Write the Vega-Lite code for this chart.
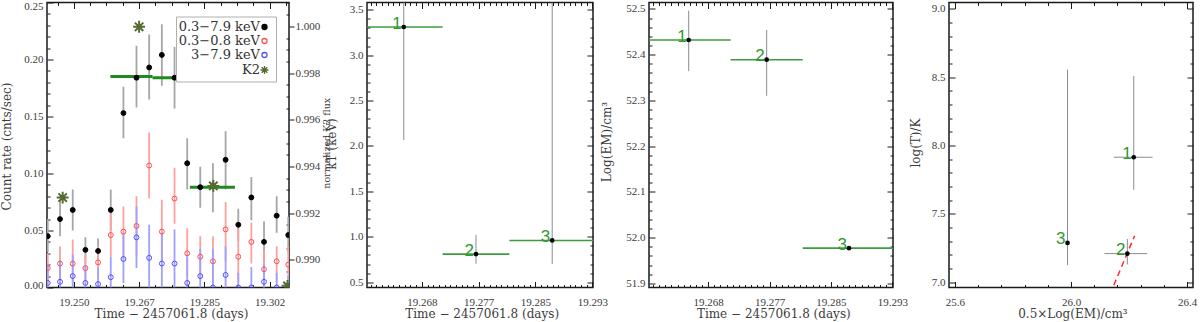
{
"$schema": "https://vega.github.io/schema/vega-lite/v6.json",
"background": "white",
"padding": {"left": -1, "top": -4.5, "right": 0, "bottom": 0},
"config": {
  "view": {"stroke": "#1a1a1a", "strokeWidth": 1.5},
  "axis": {"grid": false, "domain": false, "labelFont": "Liberation Serif", "labelFontSize": 11, "labelColor": "#3c3c3c", "titleFont": "DejaVu Serif", "titleFontSize": 12, "titleFontWeight": "normal", "titleColor": "#3c3c3c", "tickColor": "#1a1a1a", "tickWidth": 1, "labelOverlap": false, "labelFlush": false, "titleBaseline": "middle", "titleAlign": "center"}
},
"datasets": {
  "lc": [
    {"t":19.2430,"band":"0.3−7.9 keV","rate":0.045,"lo":0.031,"hi":0.060},
    {"t":19.2463,"band":"0.3−7.9 keV","rate":0.060,"lo":0.045,"hi":0.076},
    {"t":19.2497,"band":"0.3−7.9 keV","rate":0.068,"lo":0.050,"hi":0.086},
    {"t":19.2531,"band":"0.3−7.9 keV","rate":0.033,"lo":0.021,"hi":0.044},
    {"t":19.2565,"band":"0.3−7.9 keV","rate":0.032,"lo":0.023,"hi":0.043},
    {"t":19.2599,"band":"0.3−7.9 keV","rate":0.068,"lo":0.050,"hi":0.086},
    {"t":19.2633,"band":"0.3−7.9 keV","rate":0.153,"lo":0.131,"hi":0.176},
    {"t":19.2668,"band":"0.3−7.9 keV","rate":0.184,"lo":0.158,"hi":0.212},
    {"t":19.2702,"band":"0.3−7.9 keV","rate":0.193,"lo":0.165,"hi":0.222},
    {"t":19.2736,"band":"0.3−7.9 keV","rate":0.204,"lo":0.177,"hi":0.231},
    {"t":19.2770,"band":"0.3−7.9 keV","rate":0.184,"lo":0.157,"hi":0.211},
    {"t":19.2804,"band":"0.3−7.9 keV","rate":0.109,"lo":0.086,"hi":0.131},
    {"t":19.2839,"band":"0.3−7.9 keV","rate":0.088,"lo":0.070,"hi":0.106},
    {"t":19.2873,"band":"0.3−7.9 keV","rate":0.089,"lo":0.066,"hi":0.109},
    {"t":19.2907,"band":"0.3−7.9 keV","rate":0.112,"lo":0.086,"hi":0.137},
    {"t":19.2941,"band":"0.3−7.9 keV","rate":0.055,"lo":0.041,"hi":0.069},
    {"t":19.2976,"band":"0.3−7.9 keV","rate":0.079,"lo":0.059,"hi":0.097},
    {"t":19.3010,"band":"0.3−7.9 keV","rate":0.040,"lo":0.021,"hi":0.058},
    {"t":19.3044,"band":"0.3−7.9 keV","rate":0.063,"lo":0.048,"hi":0.080},
    {"t":19.3075,"band":"0.3−7.9 keV","rate":0.046,"lo":0.031,"hi":0.062},
    {"t":19.2430,"band":"0.3−0.8 keV","rate":0.017,"lo":0.004,"hi":0.030},
    {"t":19.2463,"band":"0.3−0.8 keV","rate":0.021,"lo":0.006,"hi":0.036},
    {"t":19.2497,"band":"0.3−0.8 keV","rate":0.021,"lo":0.004,"hi":0.042},
    {"t":19.2531,"band":"0.3−0.8 keV","rate":0.017,"lo":0.005,"hi":0.029},
    {"t":19.2565,"band":"0.3−0.8 keV","rate":0.022,"lo":0.008,"hi":0.036},
    {"t":19.2599,"band":"0.3−0.8 keV","rate":0.046,"lo":0.027,"hi":0.064},
    {"t":19.2633,"band":"0.3−0.8 keV","rate":0.049,"lo":0.027,"hi":0.071},
    {"t":19.2668,"band":"0.3−0.8 keV","rate":0.054,"lo":0.027,"hi":0.080},
    {"t":19.2702,"band":"0.3−0.8 keV","rate":0.107,"lo":0.078,"hi":0.136},
    {"t":19.2736,"band":"0.3−0.8 keV","rate":0.049,"lo":0.023,"hi":0.077},
    {"t":19.2770,"band":"0.3−0.8 keV","rate":0.078,"lo":0.056,"hi":0.105},
    {"t":19.2804,"band":"0.3−0.8 keV","rate":0.030,"lo":0.010,"hi":0.052},
    {"t":19.2839,"band":"0.3−0.8 keV","rate":0.027,"lo":0.007,"hi":0.045},
    {"t":19.2873,"band":"0.3−0.8 keV","rate":0.023,"lo":0.004,"hi":0.045},
    {"t":19.2907,"band":"0.3−0.8 keV","rate":0.051,"lo":0.023,"hi":0.075},
    {"t":19.2941,"band":"0.3−0.8 keV","rate":0.027,"lo":0.005,"hi":0.051},
    {"t":19.2976,"band":"0.3−0.8 keV","rate":0.040,"lo":0.021,"hi":0.057},
    {"t":19.3010,"band":"0.3−0.8 keV","rate":0.016,"lo":0.000,"hi":0.033},
    {"t":19.3044,"band":"0.3−0.8 keV","rate":0.023,"lo":0.005,"hi":0.036},
    {"t":19.3075,"band":"0.3−0.8 keV","rate":0.020,"lo":0.004,"hi":0.036},
    {"t":19.2430,"band":"3−7.9 keV","rate":0.004,"lo":0.000,"hi":0.021},
    {"t":19.2463,"band":"3−7.9 keV","rate":0.005,"lo":0.000,"hi":0.024},
    {"t":19.2497,"band":"3−7.9 keV","rate":0.010,"lo":0.000,"hi":0.029},
    {"t":19.2531,"band":"3−7.9 keV","rate":0.004,"lo":0.000,"hi":0.020},
    {"t":19.2565,"band":"3−7.9 keV","rate":0.003,"lo":0.000,"hi":0.017},
    {"t":19.2599,"band":"3−7.9 keV","rate":0.009,"lo":0.000,"hi":0.027},
    {"t":19.2633,"band":"3−7.9 keV","rate":0.025,"lo":0.004,"hi":0.048},
    {"t":19.2668,"band":"3−7.9 keV","rate":0.044,"lo":0.017,"hi":0.071},
    {"t":19.2702,"band":"3−7.9 keV","rate":0.026,"lo":0.000,"hi":0.055},
    {"t":19.2736,"band":"3−7.9 keV","rate":0.021,"lo":0.000,"hi":0.048},
    {"t":19.2770,"band":"3−7.9 keV","rate":0.021,"lo":0.000,"hi":0.051},
    {"t":19.2804,"band":"3−7.9 keV","rate":0.004,"lo":0.000,"hi":0.027},
    {"t":19.2839,"band":"3−7.9 keV","rate":0.010,"lo":0.000,"hi":0.034},
    {"t":19.2873,"band":"3−7.9 keV","rate":0.000,"lo":0.000,"hi":0.034},
    {"t":19.2907,"band":"3−7.9 keV","rate":0.011,"lo":0.000,"hi":0.036},
    {"t":19.2941,"band":"3−7.9 keV","rate":0.000,"lo":0.000,"hi":0.013},
    {"t":19.2976,"band":"3−7.9 keV","rate":0.000,"lo":0.000,"hi":0.018},
    {"t":19.3010,"band":"3−7.9 keV","rate":0.005,"lo":0.000,"hi":0.021},
    {"t":19.3044,"band":"3−7.9 keV","rate":0.000,"lo":0.000,"hi":0.013},
    {"t":19.3075,"band":"3−7.9 keV","rate":0.000,"lo":0.000,"hi":0.010}
  ],
  "bins": [
    {"t0":19.2598,"t1":19.2711,"rate":0.185},
    {"t0":19.2711,"t1":19.2811,"rate":0.184},
    {"t0":19.2811,"t1":19.2932,"rate":0.088}
  ],
  "k2": [
    {"t":19.2470,"band":"K2","flux":0.99267},
    {"t":19.2675,"band":"K2","flux":0.99998},
    {"t":19.2874,"band":"K2","flux":0.99317},
    {"t":19.3073,"band":"K2","flux":0.98889}
  ],
  "spec": [
    {"id":"1","t":19.2653,"t0":19.2598,"t1":19.2711,"kT":3.31,"kT_lo":2.065,"kT_hi":3.7,"em":52.432,"em_lo":52.364,"em_hi":52.496,"hem":26.216,"hem_lo":26.147,"hem_hi":26.281,"logT":7.914,"logT_lo":7.676,"logT_hi":8.509},
    {"id":"2","t":19.2761,"t0":19.2711,"t1":19.2811,"kT":0.81,"kT_lo":0.704,"kT_hi":1.022,"em":52.389,"em_lo":52.31,"em_hi":52.454,"hem":26.194,"hem_lo":26.115,"hem_hi":26.262,"logT":7.209,"logT_lo":7.13,"logT_hi":7.316},
    {"id":"3","t":19.2875,"t0":19.2811,"t1":19.2945,"kT":0.96,"kT_lo":0.70,"kT_hi":3.7,"em":51.977,"em_lo":51.974,"em_hi":51.98,"hem":25.988,"hem_lo":25.988,"hem_hi":25.988,"logT":7.287,"logT_lo":7.124,"logT_hi":8.555}
  ],
  "slope": [
    {"hem":26.134,"logT":6.91},
    {"hem":26.219,"logT":7.34}
  ]
},
"spacing": 78,
"bounds": "flush",
"hconcat": [
  {
    "width": 242, "height": 285,
    "layer": [
      {
        "data": {"name": "lc"},
        "mark": {"type": "rule", "clip": true, "strokeWidth": 1.8},
        "encoding": {
          "x": {"field": "t", "type": "quantitative", "scale": {"domain": [19.2428, 19.3077], "nice": false, "zero": false},
            "axis": {"title": "Time − 2457061.8 (days)",
              "values": [19.245625, 19.25, 19.254375, 19.25875, 19.263125, 19.2675, 19.271875, 19.27625, 19.280625, 19.285, 19.289375, 19.29375, 19.298125, 19.3025, 19.306875],
              "labelExpr": "indexof([19.25,19.2675,19.285,19.3025], datum.value) >= 0 ? format(floor(datum.value*1000+0.001)/1000, '.3f') : ''",
              "tickSize": {"condition": {"test": "indexof([19.25,19.2675,19.285,19.3025], datum.value) >= 0", "value": -6}, "value": -3},
              "labelPadding": 14.6, "titleX": 124, "titleY": 26}},
          "y": {"field": "lo", "type": "quantitative", "scale": {"domain": [0, 0.25], "nice": false},
            "axis": {"orient": "left", "title": "Count rate (cnts/sec)",
              "values": [0,0.01,0.02,0.03,0.04,0.05,0.06,0.07,0.08,0.09,0.1,0.11,0.12,0.13,0.14,0.15,0.16,0.17,0.18,0.19,0.2,0.21,0.22,0.23,0.24,0.25],
              "labelExpr": "abs(datum.value*20 - round(datum.value*20)) < 1e-6 ? format(datum.value, '.2f') : ''",
              "tickSize": {"condition": {"test": "abs(datum.value*20 - round(datum.value*20)) < 1e-6", "value": -6}, "value": -3},
              "labelOffset": {"condition": [{"test": "datum.value == 0.25", "value": 3.5}, {"test": "datum.value == 0", "value": -2}], "value": 0},
              "labelPadding": 10, "titleX": -41, "titleY": 143.5, "titleAngle": 270}},
          "y2": {"field": "hi"},
          "color": {"field": "band", "type": "nominal", "scale": {"domain": ["0.3−7.9 keV", "0.3−0.8 keV", "3−7.9 keV"], "range": ["#a6a6a6", "#ffa0a0", "#a0a0ff"]}, "legend": null}
        }
      },
      {
        "data": {"name": "bins"},
        "mark": {"type": "rule", "clip": true, "strokeWidth": 3, "color": "#1f8a1f"},
        "encoding": {
          "x": {"field": "t0", "type": "quantitative", "scale": {"domain": [19.2428, 19.3077], "nice": false, "zero": false}, "axis": null},
          "x2": {"field": "t1"},
          "y": {"field": "rate", "type": "quantitative", "scale": {"domain": [0, 0.25], "nice": false}, "axis": null}
        }
      },
      {
        "data": {"name": "lc"},
        "mark": {"type": "point", "clip": true, "size": 24, "strokeWidth": 1, "opacity": 1},
        "encoding": {
          "x": {"field": "t", "type": "quantitative", "scale": {"domain": [19.2428, 19.3077], "nice": false, "zero": false}, "axis": null},
          "y": {"field": "rate", "type": "quantitative", "scale": {"domain": [0, 0.25], "nice": false}, "axis": null},
          "shape": {"field": "band", "type": "nominal",
            "scale": {"domain": ["0.3−7.9 keV", "0.3−0.8 keV", "3−7.9 keV", "K2"], "range": ["circle", "circle", "circle", "M0,-1.6L0,1.6M-1.6,0L1.6,0M-1.13,-1.13L1.13,1.13M-1.13,1.13L1.13,-1.13"]},
            "legend": {"orient": "none", "legendX": 129, "legendY": 14, "title": null, "labelAlign": "right", "labelOffset": -11, "symbolOffset": 78, "labelFont": "DejaVu Serif", "labelFontSize": 13, "labelColor": "#333333", "strokeColor": "#b0b0b0", "fillColor": "white", "padding": 4, "rowPadding": 0, "symbolSize": 25, "symbolStrokeWidth": 1.3, "labelLimit": 200}},
          "fill": {"field": "band", "type": "nominal",
            "scale": {"domain": ["0.3−7.9 keV", "0.3−0.8 keV", "3−7.9 keV", "K2"], "range": ["black", "transparent", "transparent", "transparent"]},
            "legend": {"orient": "none", "legendX": 129, "legendY": 14, "title": null, "labelAlign": "right", "labelOffset": -11, "symbolOffset": 78, "labelFont": "DejaVu Serif", "labelFontSize": 13, "labelColor": "#333333", "strokeColor": "#b0b0b0", "fillColor": "white", "padding": 4, "rowPadding": 0, "symbolSize": 25, "symbolStrokeWidth": 1.3, "labelLimit": 200}},
          "stroke": {"field": "band", "type": "nominal",
            "scale": {"domain": ["0.3−7.9 keV", "0.3−0.8 keV", "3−7.9 keV", "K2"], "range": ["black", "#ff5050", "#5050ff", "#556b2f"]},
            "legend": {"orient": "none", "legendX": 129, "legendY": 14, "title": null, "labelAlign": "right", "labelOffset": -11, "symbolOffset": 78, "labelFont": "DejaVu Serif", "labelFontSize": 13, "labelColor": "#333333", "strokeColor": "#b0b0b0", "fillColor": "white", "padding": 4, "rowPadding": 0, "symbolSize": 25, "symbolStrokeWidth": 1.3, "labelLimit": 200}}
        }
      },
      {
        "data": {"name": "k2"},
        "mark": {"type": "point", "clip": true, "size": 55, "strokeWidth": 2, "opacity": 1},
        "encoding": {
          "x": {"field": "t", "type": "quantitative", "scale": {"domain": [19.2428, 19.3077], "nice": false, "zero": false},
            "axis": {"orient": "top", "title": null, "labels": false,
              "values": [19.245625, 19.25, 19.254375, 19.25875, 19.263125, 19.2675, 19.271875, 19.27625, 19.280625, 19.285, 19.289375, 19.29375, 19.298125, 19.3025, 19.306875],
              "tickSize": {"condition": {"test": "indexof([19.25,19.2675,19.285,19.3025], datum.value) >= 0", "value": -6}, "value": -3}}},
          "y": {"field": "flux", "type": "quantitative", "scale": {"domain": [0.98882, 1.00102], "nice": false, "zero": false},
            "axis": {"orient": "right", "title": "normalized K2 flux", "titleFontSize": 9.5,
              "values": [0.989,0.9895,0.99,0.9905,0.991,0.9915,0.992,0.9925,0.993,0.9935,0.994,0.9945,0.995,0.9955,0.996,0.9965,0.997,0.9975,0.998,0.9985,0.999,0.9995,1,1.0005,1.001],
              "labelExpr": "abs(datum.value*500 - round(datum.value*500)) < 1e-6 ? format(datum.value, '.3f') : ''",
              "tickSize": {"condition": {"test": "abs(datum.value*500 - round(datum.value*500)) < 1e-6", "value": 5}, "value": -3},
              "labelPadding": 1, "titleX": 37.4, "titleY": 140.3, "titleAngle": 270}},
          "shape": {"field": "band", "type": "nominal",
            "scale": {"domain": ["0.3−7.9 keV", "0.3−0.8 keV", "3−7.9 keV", "K2"], "range": ["circle", "circle", "circle", "M0,-1.6L0,1.6M-1.6,0L1.6,0M-1.13,-1.13L1.13,1.13M-1.13,1.13L1.13,-1.13"]},
            "legend": {"orient": "none", "legendX": 129, "legendY": 14, "title": null, "labelAlign": "right", "labelOffset": -11, "symbolOffset": 78, "labelFont": "DejaVu Serif", "labelFontSize": 13, "labelColor": "#333333", "strokeColor": "#b0b0b0", "fillColor": "white", "padding": 4, "rowPadding": 0, "symbolSize": 25, "symbolStrokeWidth": 1.3, "labelLimit": 200}},
          "fill": {"field": "band", "type": "nominal",
            "scale": {"domain": ["0.3−7.9 keV", "0.3−0.8 keV", "3−7.9 keV", "K2"], "range": ["black", "transparent", "transparent", "transparent"]},
            "legend": {"orient": "none", "legendX": 129, "legendY": 14, "title": null, "labelAlign": "right", "labelOffset": -11, "symbolOffset": 78, "labelFont": "DejaVu Serif", "labelFontSize": 13, "labelColor": "#333333", "strokeColor": "#b0b0b0", "fillColor": "white", "padding": 4, "rowPadding": 0, "symbolSize": 25, "symbolStrokeWidth": 1.3, "labelLimit": 200}},
          "stroke": {"field": "band", "type": "nominal",
            "scale": {"domain": ["0.3−7.9 keV", "0.3−0.8 keV", "3−7.9 keV", "K2"], "range": ["black", "#ff5050", "#5050ff", "#556b2f"]},
            "legend": {"orient": "none", "legendX": 129, "legendY": 14, "title": null, "labelAlign": "right", "labelOffset": -11, "symbolOffset": 78, "labelFont": "DejaVu Serif", "labelFontSize": 13, "labelColor": "#333333", "strokeColor": "#b0b0b0", "fillColor": "white", "padding": 4, "rowPadding": 0, "symbolSize": 25, "symbolStrokeWidth": 1.3, "labelLimit": 200}}
        }
      }
    ],
    "resolve": {"scale": {"y": "independent"}, "axis": {"x": "independent", "y": "independent"}}
  },
  {
    "spacing": 56,
    "bounds": "flush",
    "hconcat": [
      {
        "width": 226, "height": 285,
        "data": {"name": "spec"},
        "layer": [
          {
            "mark": {"type": "rule", "clip": true, "color": "#3d9d3d", "strokeWidth": 1.6},
            "encoding": {
              "x": {"field": "t0", "type": "quantitative", "scale": {"domain": [19.2598, 19.2936], "nice": false, "zero": false},
                "axis": {"title": "Time − 2457061.8 (days)",
                  "values": [19.26035,19.2612,19.26205,19.2629,19.26375,19.2646,19.26545,19.2663,19.26715,19.268,19.26885,19.2697,19.27055,19.2714,19.27225,19.2731,19.27395,19.2748,19.27565,19.2765,19.27735,19.2782,19.27905,19.2799,19.28075,19.2816,19.28245,19.2833,19.28415,19.285,19.28585,19.2867,19.28755,19.2884,19.28925,19.2901,19.29095,19.2918,19.29265,19.2935],
                  "labelExpr": "datum.value == 19.268 ? '19.268' : datum.value == 19.2765 ? '19.277' : datum.value == 19.285 ? '19.285' : datum.value == 19.2935 ? '19.293' : ''",
                  "tickSize": {"condition": {"test": "indexof([19.268,19.2765,19.285,19.2935], datum.value) >= 0", "value": -6}, "value": -3},
                  "labelPadding": 14.6, "titleX": 114.7, "titleY": 26}},
              "x2": {"field": "t1"},
              "y": {"field": "kT", "type": "quantitative", "scale": {"domain": [0.442, 3.58], "nice": false, "zero": false},
                "axis": {"title": "kT (keV)",
                  "values": [0.5,0.6,0.7,0.8,0.9,1,1.1,1.2,1.3,1.4,1.5,1.6,1.7,1.8,1.9,2,2.1,2.2,2.3,2.4,2.5,2.6,2.7,2.8,2.9,3,3.1,3.2,3.3,3.4,3.5],
                  "labelExpr": "abs(datum.value*2 - round(datum.value*2)) < 1e-6 ? format(datum.value, '.1f') : ''",
                  "tickSize": {"condition": {"test": "abs(datum.value*2 - round(datum.value*2)) < 1e-6", "value": -6}, "value": -3},
                  "labelPadding": 10, "titleX": -36, "titleY": 141, "titleAngle": 270}}
            }
          },
          {
            "mark": {"type": "rule", "clip": true, "color": "#8c8c8c", "strokeWidth": 1},
            "encoding": {
              "x": {"field": "t", "type": "quantitative", "scale": {"domain": [19.2598, 19.2936], "nice": false, "zero": false}, "axis": null},
              "y": {"field": "kT_lo", "type": "quantitative", "scale": {"domain": [0.442, 3.58], "nice": false, "zero": false}, "axis": null},
              "y2": {"field": "kT_hi"}
            }
          },
          {
            "mark": {"type": "point", "clip": true, "filled": true, "color": "black", "size": 22, "opacity": 1},
            "encoding": {
              "x": {"field": "t", "type": "quantitative", "scale": {"domain": [19.2598, 19.2936], "nice": false, "zero": false}, "axis": null},
              "y": {"field": "kT", "type": "quantitative", "scale": {"domain": [0.442, 3.58], "nice": false, "zero": false}, "axis": null}
            }
          },
          {
            "mark": {"type": "text", "align": "right", "baseline": "alphabetic", "dx": -2, "dy": 1.5, "font": "Liberation Sans", "fontSize": 17, "color": "#2f9a2f"},
            "encoding": {
              "x": {"field": "t", "type": "quantitative", "scale": {"domain": [19.2598, 19.2936], "nice": false, "zero": false},
                "axis": {"orient": "top", "title": null, "labels": false,
                  "values": [19.26035,19.2612,19.26205,19.2629,19.26375,19.2646,19.26545,19.2663,19.26715,19.268,19.26885,19.2697,19.27055,19.2714,19.27225,19.2731,19.27395,19.2748,19.27565,19.2765,19.27735,19.2782,19.27905,19.2799,19.28075,19.2816,19.28245,19.2833,19.28415,19.285,19.28585,19.2867,19.28755,19.2884,19.28925,19.2901,19.29095,19.2918,19.29265,19.2935],
                  "tickSize": {"condition": {"test": "indexof([19.268,19.2765,19.285,19.2935], datum.value) >= 0", "value": -6}, "value": -3}}},
              "y": {"field": "kT", "type": "quantitative", "scale": {"domain": [0.442, 3.58], "nice": false, "zero": false},
                "axis": {"orient": "right", "title": null, "labels": false,
                  "values": [0.5,0.6,0.7,0.8,0.9,1,1.1,1.2,1.3,1.4,1.5,1.6,1.7,1.8,1.9,2,2.1,2.2,2.3,2.4,2.5,2.6,2.7,2.8,2.9,3,3.1,3.2,3.3,3.4,3.5],
                  "tickSize": {"condition": {"test": "abs(datum.value*2 - round(datum.value*2)) < 1e-6", "value": -6}, "value": -3}}},
              "text": {"field": "id"}
            }
          }
        ],
        "resolve": {"axis": {"x": "independent", "y": "independent"}}
      },
      {
        "width": 244, "height": 285,
        "data": {"name": "spec"},
        "layer": [
          {
            "mark": {"type": "rule", "clip": true, "color": "#3d9d3d", "strokeWidth": 1.6},
            "encoding": {
              "x": {"field": "t0", "type": "quantitative", "scale": {"domain": [19.2598, 19.2936], "nice": false, "zero": false},
                "axis": {"title": "Time − 2457061.8 (days)",
                  "values": [19.26035,19.2612,19.26205,19.2629,19.26375,19.2646,19.26545,19.2663,19.26715,19.268,19.26885,19.2697,19.27055,19.2714,19.27225,19.2731,19.27395,19.2748,19.27565,19.2765,19.27735,19.2782,19.27905,19.2799,19.28075,19.2816,19.28245,19.2833,19.28415,19.285,19.28585,19.2867,19.28755,19.2884,19.28925,19.2901,19.29095,19.2918,19.29265,19.2935],
                  "labelExpr": "datum.value == 19.268 ? '19.268' : datum.value == 19.2765 ? '19.277' : datum.value == 19.285 ? '19.285' : datum.value == 19.2935 ? '19.293' : ''",
                  "tickSize": {"condition": {"test": "indexof([19.268,19.2765,19.285,19.2935], datum.value) >= 0", "value": -6}, "value": -3},
                  "labelPadding": 14.6, "titleX": 124.3, "titleY": 26}},
              "x2": {"field": "t1"},
              "y": {"field": "em", "type": "quantitative", "scale": {"domain": [51.891, 52.514], "nice": false, "zero": false},
                "axis": {"title": "Log(EM)/cm³",
                  "values": [51.9,51.92,51.94,51.96,51.98,52,52.02,52.04,52.06,52.08,52.1,52.12,52.14,52.16,52.18,52.2,52.22,52.24,52.26,52.28,52.3,52.32,52.34,52.36,52.38,52.4,52.42,52.44,52.46,52.48,52.5],
                  "labelExpr": "abs(datum.value*10 - round(datum.value*10)) < 1e-6 ? format(datum.value, '.1f') : ''",
                  "tickSize": {"condition": {"test": "abs(datum.value*10 - round(datum.value*10)) < 1e-6", "value": -6}, "value": -3},
                  "labelPadding": 10, "titleX": -42.3, "titleY": 139, "titleAngle": 270}}
            }
          },
          {
            "mark": {"type": "rule", "clip": true, "color": "#8c8c8c", "strokeWidth": 1},
            "encoding": {
              "x": {"field": "t", "type": "quantitative", "scale": {"domain": [19.2598, 19.2936], "nice": false, "zero": false}, "axis": null},
              "y": {"field": "em_lo", "type": "quantitative", "scale": {"domain": [51.891, 52.514], "nice": false, "zero": false}, "axis": null},
              "y2": {"field": "em_hi"}
            }
          },
          {
            "mark": {"type": "point", "clip": true, "filled": true, "color": "black", "size": 22, "opacity": 1},
            "encoding": {
              "x": {"field": "t", "type": "quantitative", "scale": {"domain": [19.2598, 19.2936], "nice": false, "zero": false}, "axis": null},
              "y": {"field": "em", "type": "quantitative", "scale": {"domain": [51.891, 52.514], "nice": false, "zero": false}, "axis": null}
            }
          },
          {
            "mark": {"type": "text", "align": "right", "baseline": "alphabetic", "dx": -2, "dy": 1.5, "font": "Liberation Sans", "fontSize": 17, "color": "#2f9a2f"},
            "encoding": {
              "x": {"field": "t", "type": "quantitative", "scale": {"domain": [19.2598, 19.2936], "nice": false, "zero": false},
                "axis": {"orient": "top", "title": null, "labels": false,
                  "values": [19.26035,19.2612,19.26205,19.2629,19.26375,19.2646,19.26545,19.2663,19.26715,19.268,19.26885,19.2697,19.27055,19.2714,19.27225,19.2731,19.27395,19.2748,19.27565,19.2765,19.27735,19.2782,19.27905,19.2799,19.28075,19.2816,19.28245,19.2833,19.28415,19.285,19.28585,19.2867,19.28755,19.2884,19.28925,19.2901,19.29095,19.2918,19.29265,19.2935],
                  "tickSize": {"condition": {"test": "indexof([19.268,19.2765,19.285,19.2935], datum.value) >= 0", "value": -6}, "value": -3}}},
              "y": {"field": "em", "type": "quantitative", "scale": {"domain": [51.891, 52.514], "nice": false, "zero": false},
                "axis": {"orient": "right", "title": null, "labels": false,
                  "values": [51.9,51.92,51.94,51.96,51.98,52,52.02,52.04,52.06,52.08,52.1,52.12,52.14,52.16,52.18,52.2,52.22,52.24,52.26,52.28,52.3,52.32,52.34,52.36,52.38,52.4,52.42,52.44,52.46,52.48,52.5],
                  "tickSize": {"condition": {"test": "abs(datum.value*10 - round(datum.value*10)) < 1e-6", "value": -6}, "value": -3}}},
              "text": {"field": "id"}
            }
          }
        ],
        "resolve": {"axis": {"x": "independent", "y": "independent"}}
      },
      {
        "width": 244, "height": 285,
        "layer": [
          {
            "data": {"name": "spec"},
            "mark": {"type": "rule", "clip": true, "color": "#8c8c8c", "strokeWidth": 1},
            "encoding": {
              "x": {"field": "hem", "type": "quantitative", "scale": {"domain": [25.58, 26.42], "nice": false, "zero": false},
                "axis": {"title": "0.5×Log(EM)/cm³",
                  "values": [25.6,25.68,25.76,25.84,25.92,26,26.08,26.16,26.24,26.32,26.4],
                  "labelExpr": "indexof([25.6,26,26.4], datum.value) >= 0 ? format(datum.value, '.1f') : ''",
                  "tickSize": {"condition": {"test": "indexof([25.6,26,26.4], datum.value) >= 0", "value": -6}, "value": -3},
                  "labelPadding": 14.6, "titleX": 123.4, "titleY": 26}},
              "y": {"field": "logT_lo", "type": "quantitative", "scale": {"domain": [6.961, 9.046], "nice": false, "zero": false},
                "axis": {"title": "log(T)/K",
                  "values": [7,7.1,7.2,7.3,7.4,7.5,7.6,7.7,7.8,7.9,8,8.1,8.2,8.3,8.4,8.5,8.6,8.7,8.8,8.9,9],
                  "labelExpr": "abs(datum.value*2 - round(datum.value*2)) < 1e-6 ? format(datum.value, '.1f') : ''",
                  "tickSize": {"condition": {"test": "abs(datum.value*2 - round(datum.value*2)) < 1e-6", "value": -6}, "value": -3},
                  "labelPadding": 10, "titleX": -33.3, "titleY": 140, "titleAngle": 270}},
              "y2": {"field": "logT_hi"}
            }
          },
          {
            "data": {"name": "spec"},
            "mark": {"type": "rule", "clip": true, "color": "#8c8c8c", "strokeWidth": 1},
            "encoding": {
              "x": {"field": "hem_lo", "type": "quantitative", "scale": {"domain": [25.58, 26.42], "nice": false, "zero": false}, "axis": null},
              "x2": {"field": "hem_hi"},
              "y": {"field": "logT", "type": "quantitative", "scale": {"domain": [6.961, 9.046], "nice": false, "zero": false}, "axis": null}
            }
          },
          {
            "data": {"name": "slope"},
            "mark": {"type": "line", "clip": true, "color": "#ff2a2a", "strokeWidth": 1.5, "strokeDash": [6, 4]},
            "encoding": {
              "x": {"field": "hem", "type": "quantitative", "scale": {"domain": [25.58, 26.42], "nice": false, "zero": false}, "axis": null},
              "y": {"field": "logT", "type": "quantitative", "scale": {"domain": [6.961, 9.046], "nice": false, "zero": false}, "axis": null}
            }
          },
          {
            "data": {"name": "spec"},
            "mark": {"type": "point", "clip": true, "filled": true, "color": "black", "size": 22, "opacity": 1},
            "encoding": {
              "x": {"field": "hem", "type": "quantitative", "scale": {"domain": [25.58, 26.42], "nice": false, "zero": false}, "axis": null},
              "y": {"field": "logT", "type": "quantitative", "scale": {"domain": [6.961, 9.046], "nice": false, "zero": false}, "axis": null}
            }
          },
          {
            "data": {"name": "spec"},
            "mark": {"type": "text", "align": "right", "baseline": "alphabetic", "dx": -2, "dy": 1.5, "font": "Liberation Sans", "fontSize": 17, "color": "#2f9a2f"},
            "encoding": {
              "x": {"field": "hem", "type": "quantitative", "scale": {"domain": [25.58, 26.42], "nice": false, "zero": false},
                "axis": {"orient": "top", "title": null, "labels": false,
                  "values": [25.6,25.68,25.76,25.84,25.92,26,26.08,26.16,26.24,26.32,26.4],
                  "tickSize": {"condition": {"test": "indexof([25.6,26,26.4], datum.value) >= 0", "value": -6}, "value": -3}}},
              "y": {"field": "logT", "type": "quantitative", "scale": {"domain": [6.961, 9.046], "nice": false, "zero": false},
                "axis": {"orient": "right", "title": null, "labels": false,
                  "values": [7,7.1,7.2,7.3,7.4,7.5,7.6,7.7,7.8,7.9,8,8.1,8.2,8.3,8.4,8.5,8.6,8.7,8.8,8.9,9],
                  "tickSize": {"condition": {"test": "abs(datum.value*2 - round(datum.value*2)) < 1e-6", "value": -6}, "value": -3}}},
              "text": {"field": "id"}
            }
          }
        ],
        "resolve": {"axis": {"x": "independent", "y": "independent"}}
      }
    ]
  }
]
}
